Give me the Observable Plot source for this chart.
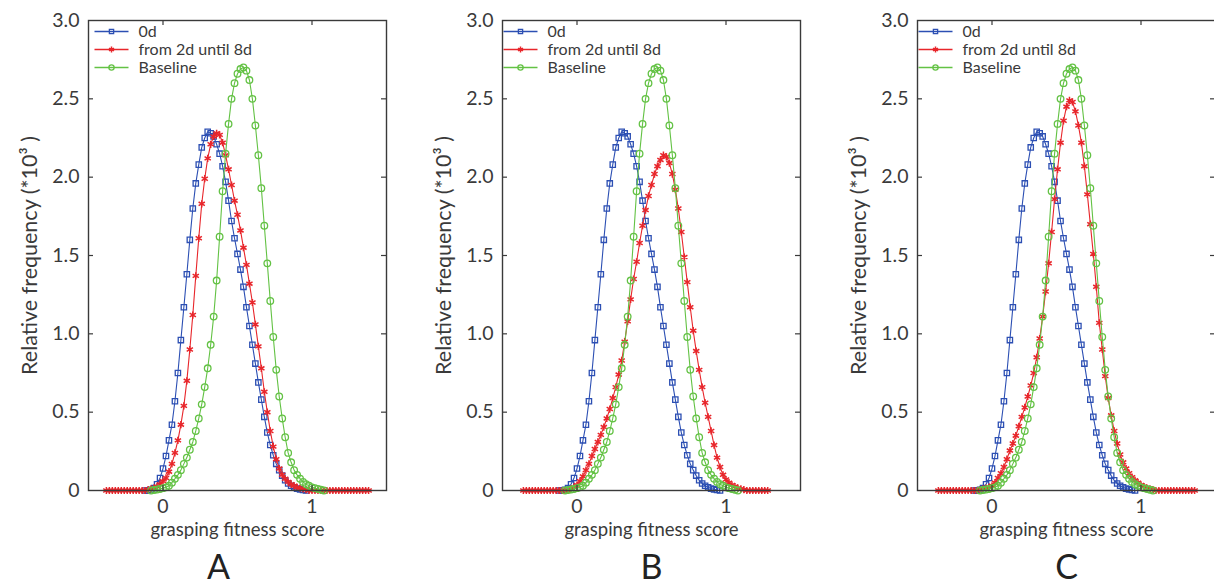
<!DOCTYPE html>
<html><head><meta charset="utf-8">
<script src="https://cdn.jsdelivr.net/npm/d3@7"></script>
<script src="https://cdn.jsdelivr.net/npm/@observablehq/plot@0.6"></script>
<style>
html,body{margin:0;padding:0;background:#fff;overflow:hidden;}
#wrap{position:relative;width:1214px;height:586px;overflow:hidden;}
#wrap > svg{position:absolute;top:0;}
</style></head><body><div id="wrap"></div>
<script>
// ---- data (relative frequency, *10^3), sampled every 0.02 of score ----
const step = 0.02;
const seriesNames = ["0d", "from 2d until 8d", "Baseline"];
const panelLetters = ["A", "B", "C"];
const xTicks = [0, 1];
const xTickLabels = ["0", "1"];
const yTicks = [0, 0.5, 1, 1.5, 2, 2.5, 3];
const yTickLabels = ["0", "0.5", "1.0", "1.5", "2.0", "2.5", "3.0"];

const zeroDayStart = -0.12;
const zeroDay = [0, 0, 0.005, 0.015, 0.04, 0.08, 0.14, 0.22, 0.32, 0.42, 0.57, 0.75, 0.96, 1.17, 1.38, 1.60, 1.80, 1.96, 2.08, 2.19, 2.25, 2.29, 2.28, 2.26, 2.21, 2.15, 2.07, 1.97, 1.85, 1.72, 1.61, 1.51, 1.41, 1.30, 1.17, 1.05, 0.93, 0.81, 0.69, 0.58, 0.47, 0.37, 0.29, 0.225, 0.17, 0.13, 0.095, 0.065, 0.045, 0.03, 0.02, 0.012, 0.007, 0.003, 0];

const baselineStart = -0.08;
const baseline = [0, 0.003, 0.006, 0.01, 0.015, 0.02, 0.03, 0.05, 0.075, 0.10, 0.13, 0.17, 0.21, 0.26, 0.31, 0.38, 0.46, 0.55, 0.66, 0.78, 0.93, 1.11, 1.34, 1.62, 1.91, 2.15, 2.34, 2.50, 2.60, 2.66, 2.69, 2.70, 2.68, 2.62, 2.50, 2.33, 2.14, 1.93, 1.69, 1.45, 1.21, 0.98, 0.77, 0.60, 0.46, 0.34, 0.24, 0.18, 0.13, 0.10, 0.075, 0.055, 0.04, 0.03, 0.02, 0.015, 0.01, 0.005, 0];

const lateAStart = -0.38;
const lateA = [0, 0, 0, 0, 0, 0, 0, 0, 0, 0, 0, 0, 0, 0, 0.005, 0.01, 0.015, 0.025, 0.04, 0.06, 0.08, 0.12, 0.17, 0.24, 0.32, 0.42, 0.54, 0.70, 0.90, 1.12, 1.37, 1.61, 1.83, 1.99, 2.12, 2.21, 2.26, 2.28, 2.27, 2.22, 2.14, 2.05, 1.95, 1.85, 1.76, 1.66, 1.55, 1.44, 1.32, 1.20, 1.06, 0.92, 0.78, 0.63, 0.50, 0.38, 0.28, 0.20, 0.14, 0.10, 0.075, 0.055, 0.04, 0.03, 0.02, 0.015, 0.01, 0.005, 0, 0, 0, 0, 0, 0, 0, 0, 0, 0, 0, 0, 0, 0, 0, 0, 0, 0, 0, 0, 0];

const lateBStart = -0.36;
const lateB = [0, 0, 0, 0, 0, 0, 0, 0, 0, 0, 0, 0, 0, 0, 0, 0, 0.01, 0.02, 0.035, 0.06, 0.09, 0.13, 0.17, 0.22, 0.265, 0.31, 0.355, 0.405, 0.46, 0.52, 0.59, 0.66, 0.74, 0.83, 0.95, 1.08, 1.22, 1.35, 1.46, 1.58, 1.69, 1.79, 1.88, 1.95, 2.02, 2.07, 2.11, 2.14, 2.13, 2.09, 2.02, 1.92, 1.80, 1.65, 1.49, 1.33, 1.17, 1.02, 0.89, 0.77, 0.66, 0.56, 0.47, 0.38, 0.29, 0.21, 0.15, 0.10, 0.07, 0.05, 0.035, 0.025, 0.015, 0.01, 0.005, 0, 0, 0, 0, 0, 0, 0, 0];

const lateCStart = -0.36;
const lateC = [0, 0, 0, 0, 0, 0, 0, 0, 0, 0, 0, 0, 0, 0, 0.005, 0.01, 0.015, 0.02, 0.03, 0.05, 0.08, 0.11, 0.15, 0.20, 0.255, 0.30, 0.35, 0.41, 0.47, 0.53, 0.60, 0.67, 0.75, 0.85, 0.97, 1.11, 1.27, 1.45, 1.65, 1.86, 2.05, 2.22, 2.36, 2.45, 2.49, 2.48, 2.42, 2.33, 2.22, 2.07, 1.89, 1.70, 1.51, 1.30, 1.07, 0.90, 0.73, 0.59, 0.48, 0.38, 0.30, 0.23, 0.18, 0.14, 0.11, 0.085, 0.065, 0.05, 0.035, 0.025, 0.015, 0.01, 0.005, 0, 0, 0, 0, 0, 0, 0, 0, 0, 0, 0, 0, 0, 0];

const panels = [
  {letter: panelLetters[0], late: lateA, lateStart: lateAStart, left: 0, letterDx: -19, legendDx: 5},
  {letter: panelLetters[1], late: lateB, lateStart: lateBStart, left: 414, letterDx: 0, legendDx: 0},
  {letter: panelLetters[2], late: lateC, lateStart: lateCStart, left: 829, letterDx: 0, legendDx: 0}
];

// ---- styling ----
const colors = ["#2c4fb3", "#e8262b", "#63c244"];
const ink = "#3a3a3a";
const W = 405, H = 586, mL = 88, mR = 19, mT = 20, mB = 96;
const innerW = W - mL - mR, innerH = H - mT - mB;
const tick = 5;
const legendLine = {draw(ctx) { ctx.moveTo(-17, 0); ctx.lineTo(17, 0); }};
const markStyle = [
  {symbol: "square", r: 3, fill: "none", stroke: colors[0], strokeWidth: 1.3},
  {symbol: "asterisk", r: 3.4, fill: "none", stroke: colors[1], strokeWidth: 1.5},
  {symbol: "circle", r: 3.3, fill: "none", stroke: colors[2], strokeWidth: 1.3}
];

function rows(name, start, values) {
  return values.map((v, i) => ({series: name, x: +(start + i * step).toFixed(3), v}));
}

const wrap = document.getElementById("wrap");
for (const p of panels) {
  const series = [
    rows(seriesNames[0], zeroDayStart, zeroDay),
    rows(seriesNames[1], p.lateStart, p.late),
    rows(seriesNames[2], baselineStart, baseline)
  ];
  const marks = [];
  series.forEach((d, k) => {
    marks.push(Plot.line(d, {x: "x", y: "v", stroke: colors[k], strokeWidth: 1.1}));
    marks.push(Plot.dot(d, {x: "x", y: "v", ...markStyle[k]}));
  });
  // legend inside the frame
  const rowsY = [11, 29, 47];
  seriesNames.forEach((name, k) => {
    marks.push(Plot.dot([name], {frameAnchor: "top-left", dx: p.legendDx + 18, dy: rowsY[k], symbol: legendLine, stroke: colors[k], strokeWidth: 1.3, fill: "none"}));
    marks.push(Plot.dot([name], {frameAnchor: "top-left", dx: p.legendDx + 18, dy: rowsY[k], ...markStyle[k], r: markStyle[k].r * 0.8}));
    marks.push(Plot.text([name], {frameAnchor: "top-left", dx: p.legendDx + 45, dy: rowsY[k], text: d => d, textAnchor: "start", lineAnchor: "middle", fontSize: 16, fill: ink}));
  });
  // inward ticks on all four sides
  const innerY = yTicks.filter(d => d > 0 && d < 3);
  marks.push(
    Plot.tickX(xTicks, {x: d => d, insetTop: innerH - tick, stroke: ink, strokeWidth: 1.2}),
    Plot.tickX(xTicks, {x: d => d, insetBottom: innerH - tick, stroke: ink, strokeWidth: 1.2}),
    Plot.tickY(innerY, {y: d => d, insetRight: innerW - tick, stroke: ink, strokeWidth: 1.2}),
    Plot.tickY(innerY, {y: d => d, insetLeft: innerW - tick, stroke: ink, strokeWidth: 1.2}),
    Plot.frame({stroke: ink, strokeWidth: 1.4}),
    Plot.axisY(yTicks, {tickSize: 0, tickPadding: 9, tickFormat: d => yTickLabels[yTicks.indexOf(d)], fontSize: 19.5, label: null, fill: ink}),
    Plot.axisX(xTicks, {tickSize: 0, tickPadding: 9, tickFormat: d => xTickLabels[xTicks.indexOf(d)], fontSize: 19.5, label: null, fill: ink}),
    Plot.text(["Relative frequency (*10³ )"], {frameAnchor: "left", dx: -58, rotate: -90, text: d => d, textAnchor: "middle", lineAnchor: "middle", fontSize: 21.5, fill: ink}),
    Plot.text(["grasping fitness score"], {frameAnchor: "bottom", dy: 40, text: d => d, lineAnchor: "middle", fontSize: 18.5, fill: ink}),
    Plot.text([p.letter], {frameAnchor: "bottom", dx: p.letterDx, dy: 78, text: d => d, lineAnchor: "middle", fontSize: 34, fill: "#222"})
  );
  const chart = Plot.plot({
    width: W, height: H,
    marginLeft: mL, marginRight: mR, marginTop: mT, marginBottom: mB,
    x: {domain: [-0.5, 1.5]},
    y: {domain: [0, 3]},
    style: {fontFamily: "Lato, 'Open Sans', sans-serif", background: "white", overflow: "visible", color: ink},
    marks
  });
  chart.style.left = p.left + "px";
  wrap.appendChild(chart);
}
</script></body></html>
